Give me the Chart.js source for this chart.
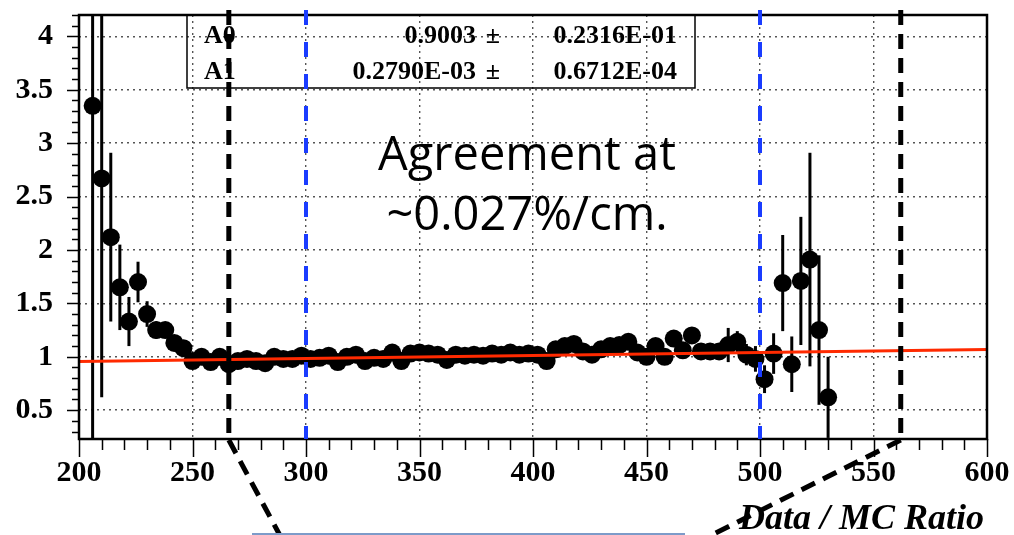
<!DOCTYPE html>
<html>
<head>
<meta charset="utf-8">
<script src="https://cdn.jsdelivr.net/npm/chart.js@4.4.0/dist/chart.umd.min.js"></script>
<style>
  html, body { margin: 0; padding: 0; background: #fff; }
  canvas { display: block; }
</style>
</head>
<body>
<canvas id="ratio" width="1014" height="535"></canvas>
<script>
// bin centres (cm) and data/MC ratio per bin
const binX = [206, 210, 214, 218, 222, 226, 230, 234, 238, 242, 246, 250, 254, 258, 262, 266, 270,
  274, 278, 282, 286, 290, 294, 298, 302, 306, 310, 314, 318, 322, 326, 330, 334, 338, 342, 346,
  350, 354, 358, 362, 366, 370, 374, 378, 382, 386, 390, 394, 398, 402, 406, 410, 414, 418, 422,
  426, 430, 434, 438, 442, 446, 450, 454, 458, 462, 466, 470, 474, 478, 482, 486, 490, 494, 498,
  502, 506, 510, 514, 518, 522, 526, 530];
const ratio = [3.35, 2.67, 2.12, 1.65, 1.33, 1.70, 1.40, 1.25, 1.25, 1.13, 1.08,
  0.96, 1.00, 0.95, 1.00, 0.93, 0.96, 0.98, 0.96, 0.94, 1.00,
  0.98, 0.98, 1.01, 0.98, 0.99, 1.01, 0.95, 1.00, 1.02, 0.96,
  0.99, 0.98, 1.04, 0.96, 1.03, 1.04, 1.03, 1.02, 0.97, 1.02,
  1.01, 1.02, 1.01, 1.03, 1.02, 1.04, 1.02, 1.03, 1.02, 0.96,
  1.07, 1.10, 1.12, 1.05, 1.02, 1.07, 1.10, 1.11, 1.14, 1.04,
  1.00, 1.10, 1.00, 1.17, 1.06, 1.20, 1.05, 1.05, 1.05, 1.11,
  1.14, 1.02, 0.98, 0.79, 1.03, 1.69, 0.93, 1.71, 1.91, 1.25, 0.62];
const ratioErr = [3.6, 2.05, 0.79, 0.40, 0.23, 0.19, 0.12, 0.08, 0.07, 0.06, 0.05,
  0.05, 0.05, 0.05, 0.04, 0.04, 0.04, 0.04, 0.04, 0.04, 0.04,
  0.04, 0.04, 0.04, 0.04, 0.04, 0.04, 0.04, 0.04, 0.04, 0.04,
  0.04, 0.04, 0.04, 0.04, 0.04, 0.04, 0.04, 0.04, 0.04, 0.04,
  0.04, 0.04, 0.04, 0.04, 0.04, 0.04, 0.04, 0.04, 0.04, 0.04,
  0.04, 0.04, 0.04, 0.05, 0.05, 0.05, 0.05, 0.05, 0.05, 0.05,
  0.05, 0.05, 0.06, 0.06, 0.06, 0.06, 0.06, 0.07, 0.07,
  0.16, 0.10, 0.10, 0.12, 0.13, 0.19, 0.45, 0.26, 0.60, 1.00, 0.70, 0.38];

// pol1 fit results
const fitA0 = 0.9003, fitA0Err = 0.2316E-01;
const fitA1 = 0.2790E-03, fitA1Err = 0.6712E-04;
const fitRange = [200, 600];

const xTicks = [200, 250, 300, 350, 400, 450, 500, 550, 600];
const yTicks = [0.5, 1, 1.5, 2, 2.5, 3, 3.5, 4];
const xMinorStep = 10, yMinorStep = 0.1;
const cutLines = [266, 562];     // black dashed, zoom window
const fiducialLines = [300, 500]; // blue dashed
const yRange = [0.23, 4.2];

const serif = '"Liberation Serif", "Times New Roman", serif';

// ROOT style 0.xxxxE-nn
function rootFmt(v) {
  const e = Math.floor(Math.log10(Math.abs(v))) + 1;
  const m = v / Math.pow(10, e);
  const s = e < 0 ? "-" : "+";
  return m.toFixed(4) + "E" + s + String(Math.abs(e)).padStart(2, "0");
}

function noPad(s) {
  s.paddingTop = s.paddingBottom = s.paddingLeft = s.paddingRight = 0;
}

const decor = {
  id: "decor",
  beforeDatasetsDraw(chart) {
    const { ctx, chartArea: a, scales: { x, y } } = chart;
    ctx.save();
    ctx.beginPath();
    ctx.rect(a.left, a.top, a.right - a.left, a.bottom - a.top);
    ctx.clip();
    ctx.strokeStyle = "#000";
    ctx.lineWidth = 3;
    binX.forEach((bx, i) => {
      const px = x.getPixelForValue(bx);
      ctx.beginPath();
      ctx.moveTo(px, y.getPixelForValue(ratio[i] - ratioErr[i]));
      ctx.lineTo(px, y.getPixelForValue(ratio[i] + ratioErr[i]));
      ctx.stroke();
    });
    ctx.restore();
  },
  afterDatasetsDraw(chart) {
    const { ctx, chartArea: a, scales: { x, y } } = chart;
    const H = chart.height;
    ctx.save();

    // frame
    ctx.strokeStyle = "#000";
    ctx.lineWidth = 2.5;
    ctx.strokeRect(a.left, a.top, a.right - a.left, a.bottom - a.top);

    // tick marks, outside the frame
    ctx.lineWidth = 1.5;
    ctx.beginPath();
    for (let v = Math.ceil(yRange[0] * 10) / 10; v <= yRange[1] + 1e-9; v += yMinorStep) {
      const py = Math.round(y.getPixelForValue(v)) + 0.5;
      const major = Math.abs(v * 2 - Math.round(v * 2)) < 1e-6;
      ctx.moveTo(a.left, py);
      ctx.lineTo(a.left - (major ? 12 : 7), py);
    }
    for (let v = xTicks[0]; v <= xTicks[xTicks.length - 1]; v += xMinorStep) {
      const px = Math.round(x.getPixelForValue(v)) + 0.5;
      const major = v % 50 === 0;
      ctx.moveTo(px, a.bottom);
      ctx.lineTo(px, a.bottom + (major ? 18 : 11));
    }
    ctx.stroke();

    // fit parameter box
    ctx.lineWidth = 1.5;
    ctx.strokeRect(187, a.top, 508, 73);
    ctx.fillStyle = "#000";
    ctx.font = "bold 26px " + serif;
    ctx.textBaseline = "alphabetic";
    const rows = [["A0", fitA0.toFixed(4), rootFmt(fitA0Err)], ["A1", rootFmt(fitA1), rootFmt(fitA1Err)]];
    rows.forEach((r, i) => {
      const by = 43 + i * 36;
      ctx.textAlign = "left";
      ctx.fillText(r[0], 204, by);
      ctx.textAlign = "right";
      ctx.fillText(r[1], 476, by);
      ctx.fillText("\u00b1", 500, by);
      ctx.fillText(r[2], 677, by);
    });

    // blue dashed fiducial lines
    ctx.strokeStyle = "#1a3cff";
    ctx.lineWidth = 4;
    ctx.setLineDash([15, 17]);
    fiducialLines.forEach((v) => {
      const px = x.getPixelForValue(v);
      ctx.beginPath();
      ctx.moveTo(px, 10);
      ctx.lineTo(px, a.bottom);
      ctx.stroke();
    });

    // black dashed window and its projection below the axis
    ctx.strokeStyle = "#000";
    ctx.lineWidth = 5;
    ctx.setLineDash([15, 9]);
    const slope = [0.53, -1.97];
    cutLines.forEach((v, i) => {
      const px = x.getPixelForValue(v);
      ctx.beginPath();
      ctx.moveTo(px, 10);
      ctx.lineTo(px, a.bottom);
      ctx.stroke();
      ctx.beginPath();
      ctx.moveTo(px, a.bottom + 1);
      ctx.lineTo(px + slope[i] * (H - a.bottom), H);
      ctx.stroke();
    });
    ctx.setLineDash([]);

    // inset edge at the bottom
    ctx.strokeStyle = "#7d9bc9";
    ctx.lineWidth = 2;
    ctx.beginPath();
    ctx.moveTo(252, H - 1);
    ctx.lineTo(685, H - 1);
    ctx.stroke();

    // annotation
    ctx.fillStyle = "#000";
    ctx.textAlign = "center";
    ctx.font = '400 47px "Open Sans", sans-serif';
    ctx.fillText("Agreement at", 527, 170);
    ctx.fillText("~0.027%/cm.", 527, 230);

    // axis title
    ctx.textAlign = "right";
    ctx.font = "italic bold 36px " + serif;
    ctx.fillText("Data / MC Ratio", 984, 529);
    ctx.restore();
  }
};

new Chart(document.getElementById("ratio"), {
  type: "scatter",
  data: {
    datasets: [
      {
        label: "fit",
        data: fitRange.map((fx) => ({ x: fx, y: fitA0 + fitA1 * fx })),
        showLine: true,
        borderColor: "#ff2a00",
        borderWidth: 3,
        pointRadius: 0,
        order: 0,
      },
      {
        label: "ratio",
        data: binX.map((bx, i) => ({ x: bx, y: ratio[i] })),
        backgroundColor: "#000",
        borderColor: "#000",
        pointRadius: 9,
        borderWidth: 0,
        order: 1,
      },
    ],
  },
  options: {
    responsive: false,
    animation: false,
    layout: { padding: { left: 0, right: 27, top: 15, bottom: 0 } },
    plugins: { legend: { display: false }, tooltip: { enabled: false } },
    scales: {
      x: {
        type: "linear",
        min: xTicks[0],
        max: xTicks[xTicks.length - 1],
        afterBuildTicks: (s) => { s.ticks = xTicks.map((v) => ({ value: v })); },
        afterFit: (s) => { s.height = 96; noPad(s); },
        grid: { color: "#555", lineWidth: 1.4, drawTicks: false },
        border: { display: false, dash: [2, 4] },
        ticks: { color: "#000", padding: 16, maxRotation: 0, font: { family: serif, weight: "bold", size: 30 } },
      },
      y: {
        min: yRange[0],
        max: yRange[1],
        afterBuildTicks: (s) => { s.ticks = yTicks.map((v) => ({ value: v })); },
        afterFit: (s) => { s.width = 79; noPad(s); },
        grid: { color: "#555", lineWidth: 1.4, drawTicks: false },
        border: { display: false, dash: [2, 4] },
        ticks: {
          color: "#000",
          padding: 26,
          font: { family: serif, weight: "bold", size: 30 },
          callback: (v) => String(v),
        },
      },
    },
  },
  plugins: [decor],
});
</script>
</body>
</html>
